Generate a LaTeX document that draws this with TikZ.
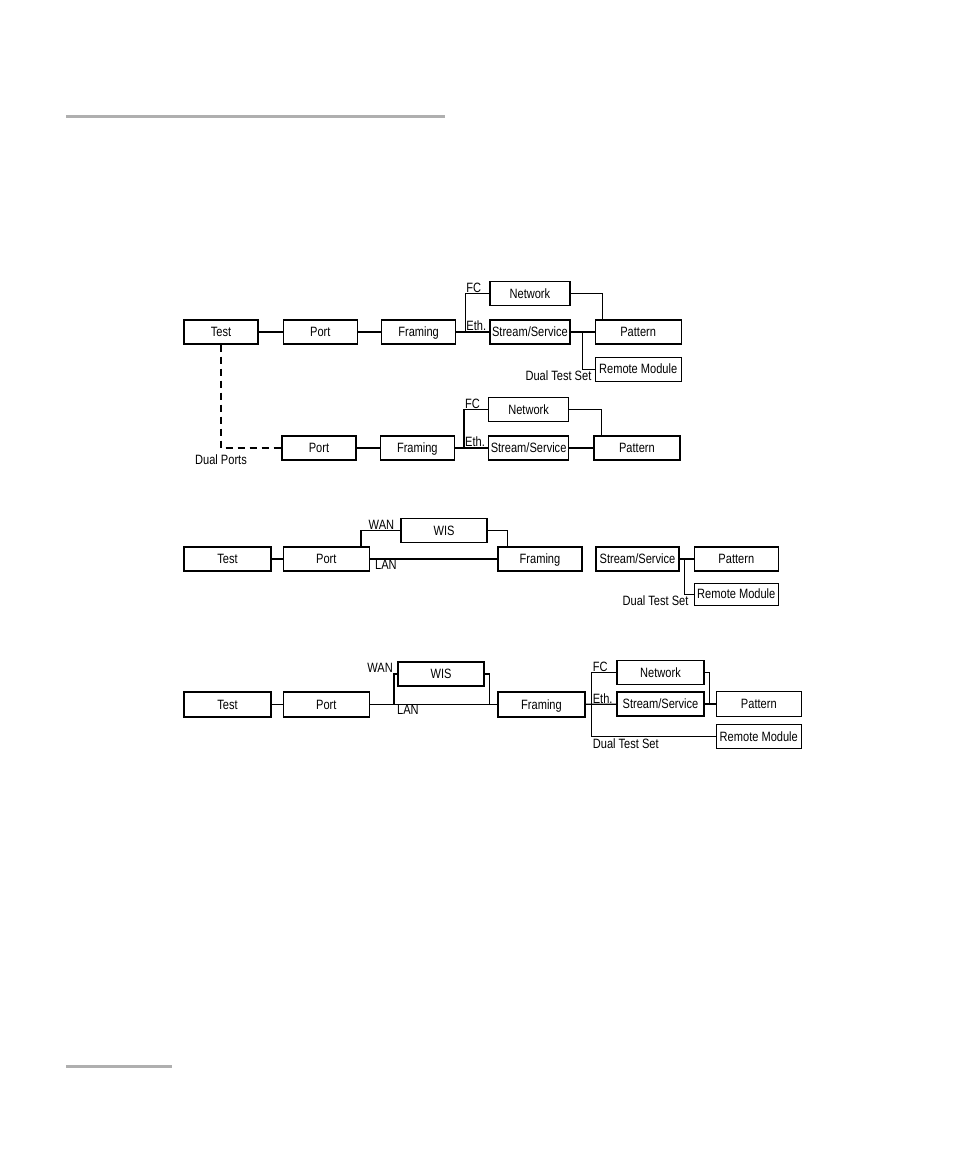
\documentclass[tikz,border=0pt]{standalone}
\usepackage{fontspec}
\setmainfont{Liberation Sans}[FakeStretch=0.82]
\usetikzlibrary{positioning,calc}
\definecolor{rulegray}{RGB}{175,175,175}

\begin{document}
\begin{tikzpicture}[
  x=1pt, y=-1pt,
  font=\fontsize{13.5}{15}\selectfont,
  box/.style={draw, line width=1.3pt, inner sep=0pt, minimum height=24pt, text height=10.5pt, text depth=1.5pt},
  lbl/.style={inner sep=1pt},
  wire/.style={line width=1.3pt},
]
\useasboundingbox (0,0) rectangle (954,1158);
\fill[rulegray] (66,115.5) rectangle (445,118.5);
\fill[rulegray] (66,1064.5) rectangle (172,1067.5);

% dual ports
\node[box, minimum width=74pt] (test) at (221,332) {Test};
\node[box, minimum width=74pt, right=24pt of test] (port) {Port};
\node[box, minimum width=74pt, right=23pt of port] (framing) {Framing};
\node[box, minimum width=80pt, right=33pt of framing] (stream) {Stream/Service};
\node[box, minimum width=80pt, above=13pt of stream] (network) {Network};
\node[box, minimum width=86pt, right=24pt of stream] (pattern) {Pattern};
\node[box, minimum width=86pt, below=12pt of pattern] (remote) {Remote Module};

\node[box, minimum width=74pt] (port2) at (319,448) {Port};
\node[box, minimum width=74pt, right=23pt of port2] (framing2) {Framing};
\node[box, minimum width=80pt, right=33pt of framing2] (stream2) {Stream/Service};
\node[box, minimum width=80pt, above=13pt of stream2] (network2) {Network};
\node[box, minimum width=86pt, right=24pt of stream2] (pattern2) {Pattern};

\coordinate (fork) at ($(framing.east)+(9pt,0pt)$);
\coordinate (dts) at ($(stream.east)+(12pt,0pt)$);
\coordinate (fork2) at ($(framing2.east)+(9pt,0pt)$);

\draw[wire] (test) -- (port);
\draw[wire] (port) -- (framing);
\draw[wire] (framing) -- (stream);
\draw[wire] (fork) |- (network);
\draw[wire] (network) -| ([xshift=8pt]pattern.north west);
\draw[wire] (stream) -- (pattern);
\draw[wire] (dts) |- (remote);
\node[lbl, anchor=south west] (fc) at (fork |- network) {FC};
\node[lbl, anchor=south west] (eth) at (fork) {Eth.};
\node[lbl, anchor=north east, xshift=-2pt] (dualset) at (remote.west) {Dual Test Set};

\draw[wire, dash pattern=on 7pt off 5pt] (test) |- (port2);
\node[lbl, anchor=north, yshift=-6pt] (dualports) at (test |- port2) {Dual Ports};
\draw[wire] (port2) -- (framing2);
\draw[wire] (framing2) -- (stream2);
\draw[wire] (fork2) |- (network2);
\draw[wire] (network2) -| ([xshift=8pt]pattern2.north west);
\draw[wire] (stream2) -- (pattern2);
\node[lbl, anchor=south west] (fc2) at (fork2 |- network2) {FC};
\node[lbl, anchor=south west] (eth2) at (fork2) {Eth.};

% wan / lan, separate stream
\node[box, minimum width=87pt] (testb) at (227.5,559) {Test};
\node[box, minimum width=86pt, right=11pt of testb] (portb) {Port};
\node[box, minimum width=86pt] (wisb) at (444,530.5) {WIS};
\node[box, minimum width=84pt] (framingb) at (540,559) {Framing};
\node[box, minimum width=83pt] (streamb) at (637.5,559) {Stream/Service};
\node[box, minimum width=84pt, right=14pt of streamb] (patternb) {Pattern};
\node[box, minimum width=84pt, minimum height=22pt, below=11pt of patternb] (remoteb) {Remote Module};

\coordinate (dtsb) at ($(streamb.east)+(5pt,0pt)$);

\draw[wire] (testb) -- (portb);
\draw[wire] (portb) -- (framingb);
\draw[wire] ([xshift=-9pt]portb.north east) |- (wisb);
\draw[wire] (wisb) -| ([xshift=10pt]framingb.north west);
\node[lbl, anchor=south east, xshift=-5pt] (wanb) at (wisb.west) {WAN};
\node[lbl, anchor=north west, xshift=4pt] (lanb) at (portb.east) {LAN};
\draw[wire] (streamb) -- (patternb);
\draw[wire] (dtsb) |- (remoteb);
\node[lbl, anchor=north east, xshift=-4pt] (dualsetb) at (remoteb.west) {Dual Test Set};

% wan / lan, fc / eth.
\node[box, minimum width=87pt, minimum height=25pt] (testc) at (227.5,704.5) {Test};
\node[box, minimum width=86pt, minimum height=25pt, right=11pt of testc] (portc) {Port};
\node[box, minimum width=86pt] (wisc) at (441,674) {WIS};
\node[box, minimum width=87pt, minimum height=25pt] (framingc) at (541.5,704.5) {Framing};
\node[box, minimum width=87pt] (streamc) at (660.5,704) {Stream/Service};
\node[box, minimum width=87pt, above=6pt of streamc] (networkc) {Network};
\node[box, minimum width=85pt, minimum height=25pt, right=11pt of streamc] (patternc) {Pattern};
\node[box, minimum width=85pt, below=7pt of patternc] (remotec) {Remote Module};

\coordinate (wanc) at ($(portc.east)+(24pt,0pt)$);
\coordinate (forkc) at ($(framingc.east)+(6pt,0pt)$);

\draw[wire] (testc) -- (portc);
\draw[wire] (portc) -- (framingc);
\draw[wire] (wanc) |- (wisc);
\draw[wire] (wisc) -| ([xshift=-8pt]framingc.west);
\node[lbl, anchor=south east] (wanlbl) at (wanc |- wisc) {WAN};
\node[lbl, anchor=north west, xshift=2pt] (lanc) at (wanc) {LAN};
\draw[wire] (framingc) -- (streamc);
\draw[wire] (forkc) |- (networkc);
\draw[wire] (forkc) |- (remotec);
\draw[wire] (streamc) -- (patternc);
\draw[wire] (networkc) -| ([xshift=-6pt]patternc.west);
\node[lbl, anchor=south west] (fcc) at (forkc |- networkc) {FC};
\node[lbl, anchor=south west] (ethc) at (forkc) {Eth.};
\node[lbl, anchor=north west, yshift=-1pt] (dualsetc) at (forkc |- remotec) {Dual Test Set};
\end{tikzpicture}
\end{document}
